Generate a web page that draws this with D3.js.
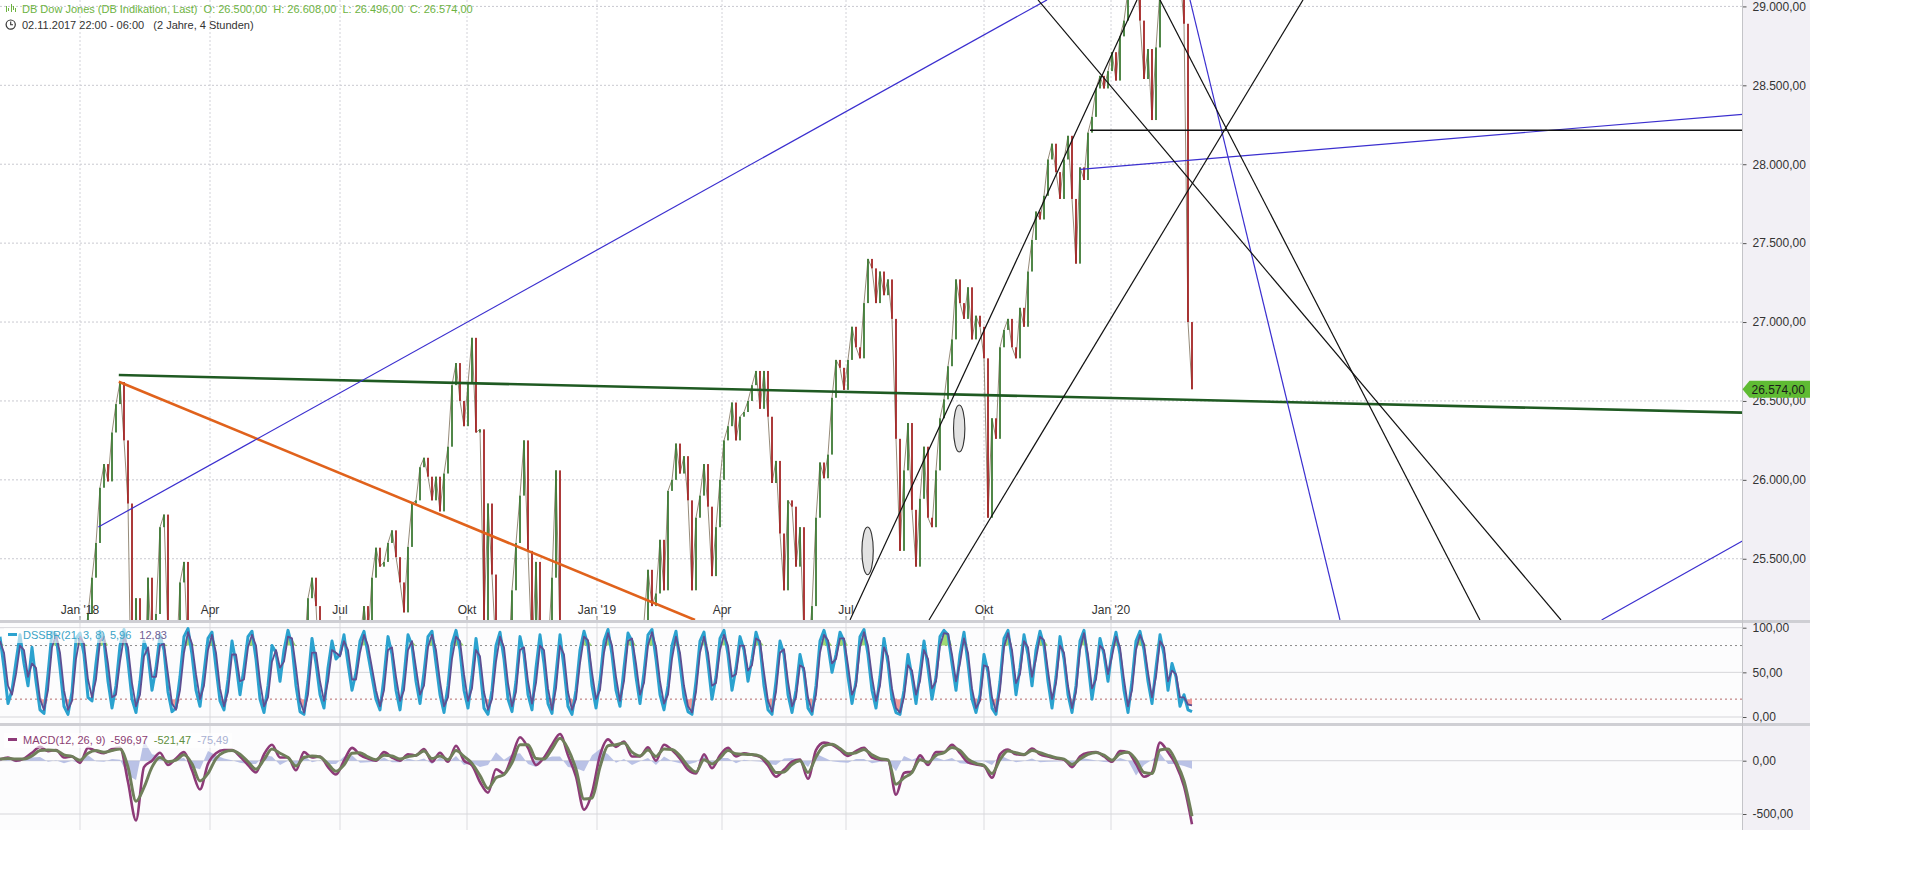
<!DOCTYPE html>
<html><head><meta charset="utf-8">
<script src="https://cdn.jsdelivr.net/npm/d3@7"></script>
<style>
html,body{margin:0;padding:0;background:#fff;}
svg{display:block;font-family:Arial,"Liberation Sans",sans-serif;}
</style></head><body>
<svg id="c" width="1914" height="869"></svg>
<script>
// ---------------- DATA ----------------
const headerTitle = "DB Dow Jones (DB Indikation, Last)  O: 26.500,00  H: 26.608,00  L: 26.496,00  C: 26.574,00";
const headerRange = "02.11.2017 22:00 - 06:00   (2 Jahre, 4 Stunden)";
const lastPrice = 26574;

// 4-hour closes, one value per bar slot (index units)
const closes = [
23450,23500,23400,23550,23600,23400,23550,23800,24100,24200,24300,24100,24250,24500,24600,24700,24750,24700,24750,24800,
24850,24950,25150,25380,25600,25950,26100,25990,26300,26480,26620,26250,25850,24300,25250,24400,24600,25380,24900,25150,
25700,25780,25000,24600,24800,25350,25480,24900,24400,24600,24000,23800,24100,23700,24200,24400,24100,24500,24300,24000,
24300,24700,24800,24700,24850,24400,24700,24800,24500,24700,24300,24600,24900,24800,24950,25000,24900,25250,25380,25200,
24700,24400,24200,24300,24100,24300,24500,24800,24700,24900,25000,25200,25000,25380,25570,25450,25480,25600,25680,25510,
25350,25160,25575,25850,25870,26080,26140,26020,25870,26020,25800,26040,26210,26600,26740,26500,26340,26610,26900,26300,
26320,25100,25850,25400,24900,24700,25000,24800,25300,25600,25900,26250,25550,24900,25480,24800,24500,24900,25380,26060,
25000,24400,24100,23800,23300,22800,22500,23100,23300,23400,23000,23500,23800,23900,24100,24500,24400,24600,24800,24700,
25000,25100,25430,25200,25280,25620,25300,25930,26000,26230,26040,26150,25870,25300,25760,25900,26100,25830,25390,25700,
26000,26250,26340,26490,26250,26400,26430,26500,26600,26690,26450,26690,26400,25980,26120,25660,25300,25870,25830,25450,
25700,25000,24900,25200,25760,26110,26010,26160,26520,26760,26710,26570,26760,26970,26840,26770,27120,27400,27340,27120,
27320,27170,27270,27020,26260,25550,26060,26360,25810,25450,25880,26210,25760,25700,26060,26390,26510,26720,26890,27270,
27120,27020,27220,26890,27040,26970,26770,25760,26390,26260,26840,26950,27020,26840,26770,27090,26970,27320,27520,27700,
27650,27800,28030,28130,27950,27780,28030,28180,27780,27370,27980,27900,28200,28300,28480,28560,28480,28590,28710,28530,
28810,28910,29100,29250,29300,28910,28540,28730,28280,28740,29100,29350,29500,29400,29300,29200,28890,27000,26574
];

// DSSBR(21,3,8): main line and signal line, one value per bar slot
const dssMain = [
90,55,15,30,62,92,60,35,78,40,8,4,48,95,92,55,12,3,28,88,
94,70,22,18,60,96,85,40,10,35,80,98,62,20,5,40,85,70,30,55,
92,75,28,6,10,45,90,99,70,30,12,50,88,95,55,18,8,42,85,60,
25,55,90,96,65,20,5,35,80,72,40,75,97,80,35,6,3,40,88,60,
25,10,55,85,65,70,92,60,30,50,85,96,70,45,20,8,45,90,70,30,
8,45,92,80,40,15,50,90,96,60,25,5,35,82,97,75,30,10,45,88,
55,10,3,30,80,95,65,20,6,40,90,70,25,8,55,92,60,15,4,48,
92,55,12,3,30,75,96,80,35,10,40,85,98,70,30,12,55,94,85,45,
15,50,92,98,65,25,8,35,80,96,60,22,6,3,40,85,95,60,20,45,
88,97,70,30,55,90,75,40,65,95,80,35,8,3,40,85,70,25,5,30,
70,50,10,3,35,85,97,80,50,70,95,85,45,15,40,90,98,70,30,10,
45,88,60,20,5,3,30,70,45,15,50,85,55,20,45,90,97,92,60,30,
70,95,60,20,5,25,70,50,10,3,40,88,97,65,25,55,92,70,35,75,
96,80,40,10,45,90,65,25,5,35,85,97,60,20,50,88,70,40,75,95,
70,30,5,40,85,96,75,40,15,55,92,70,30,60,45,12,25,8,6
];
const dssSignal = [
85,72,35,25,48,80,75,45,60,55,20,8,30,78,92,72,30,8,18,65,
90,82,42,22,42,85,90,60,22,25,62,90,78,38,12,25,68,78,45,45,
80,82,48,15,8,30,72,95,82,48,20,35,75,92,72,32,12,28,70,70,
40,42,78,92,80,40,12,22,62,75,55,62,90,88,55,18,5,25,72,72,
40,18,40,75,72,68,85,75,42,42,72,92,80,55,30,12,30,75,78,45,
18,30,75,85,55,25,35,78,92,75,40,12,22,65,90,85,48,18,32,75,
68,28,8,20,62,90,78,38,12,28,75,78,40,15,38,80,75,32,8,32,
80,70,28,8,20,60,90,86,50,20,30,72,94,80,45,18,40,85,88,60,
25,38,80,95,78,40,15,25,65,90,72,35,12,5,28,72,90,72,35,38,
75,92,80,45,48,80,80,52,58,88,85,50,18,6,28,72,76,40,12,22,
58,55,22,6,25,72,92,86,60,65,88,88,58,25,35,78,95,80,45,18,
35,78,68,32,10,5,22,58,52,25,40,75,65,32,40,80,94,93,70,40,
60,88,72,32,10,18,58,56,22,6,30,78,94,75,38,48,85,78,45,65,
90,86,52,20,38,80,72,35,10,28,75,94,70,32,42,80,75,48,68,90,
78,42,12,30,75,92,82,50,22,45,85,78,40,52,48,22,22,14,13
];

// MACD(12,26,9): one value every 2 bar slots
const macdStep = 2;
const macdLine = [
10,30,0,20,75,130,90,100,30,40,-20,120,90,70,110,120,-200,-560,-60,0,
75,-40,20,80,-90,-270,-30,70,100,100,40,-40,-110,60,150,30,30,-90,80,30,
40,-60,-130,0,120,55,20,0,80,30,0,60,50,110,-10,75,-10,140,0,-45,
-200,-300,-80,-120,40,220,120,-40,30,150,250,50,-150,-460,-300,50,200,130,180,40,
40,125,0,150,100,20,-85,-120,60,-70,50,120,40,70,55,35,-45,-150,-85,-10,
10,-170,100,170,150,100,45,90,120,30,10,5,-320,-115,-100,50,-40,80,80,150,
70,-15,-35,-50,-160,60,105,60,55,115,60,40,20,10,-60,40,75,80,40,-10,
90,80,-30,-150,-110,170,80,-40,-240,-597
];
const macdSignal = [
15,20,15,15,45,95,100,95,55,40,5,70,95,80,95,110,-60,-380,-250,-60,
30,-10,5,55,-30,-190,-120,20,80,95,60,-10,-80,10,110,70,30,-50,30,45,
35,-30,-100,-40,70,75,35,10,50,45,15,40,50,90,20,45,10,95,40,-25,
-140,-260,-160,-130,-20,150,150,20,15,110,210,110,-80,-360,-350,-60,140,150,165,80,
45,100,40,110,105,45,-50,-105,10,-30,25,95,65,60,58,42,-15,-110,-105,-35,
0,-110,35,140,155,115,65,75,105,55,20,8,-220,-160,-110,10,-15,50,75,125,
95,15,-25,-45,-120,10,90,75,58,95,75,50,28,15,-35,15,60,78,52,5,
65,80,10,-110,-120,100,110,-10,-190,-521
];
const macdHist = [
-5,10,-15,5,30,35,-10,5,-25,0,-25,50,-5,-10,15,10,-140,-180,190,60,
45,-30,15,25,-60,-80,90,50,20,5,-20,-30,-30,50,40,-40,0,-40,50,-15,
5,-30,-30,40,50,-20,-15,-10,30,-15,-15,20,0,20,-30,30,-20,45,-40,-20,
-60,-40,80,10,60,70,-30,-60,15,40,40,-60,-70,-100,50,110,60,-20,15,-40,
-5,25,-40,40,-5,-25,-35,-15,50,-40,25,25,-25,10,-3,-7,-30,-40,20,25,
10,-60,65,30,-5,-15,-20,15,15,-25,-10,-3,-100,45,10,40,-25,30,5,25,
-25,-30,-10,-5,-40,50,15,-15,-3,20,-15,-10,-8,-5,-25,25,15,2,-12,-15,
25,0,-140,-40,10,70,-30,-30,-50,-75
];

// axis ticks
const monthTicks  = [20, 52.5, 85, 116.75, 149.25, 180.5, 211.5, 246, 277.75];
const monthLabels = ["Jan '18","Apr","Jul","Okt","Jan '19","Apr","Jul","Okt","Jan '20"];
const priceTicks = [25500, 26000, 26500, 27000, 27500, 28000, 28500, 29000];
const dssTicks = [0, 50, 100];
const dssLevels = [20, 80];
const macdTicks = [-500, 0];

// drawn trend lines: [slot1, price1, slot2, price2]
const trendGreen  = [[29.7, 26664, 435.6, 26426]];
const trendOrange = [[29.7, 26622, 173.75, 25112]];
const trendBlue = [
  [24.6, 25701, 261.75, 29041],
  [297.5, 29041, 335, 25112],
  [270, 27967, 435.6, 28316],
  [400.4, 25112, 435.6, 25612]
];
const trendBlack = [
  [212.5, 25112, 284.25, 29041],
  [232.25, 25112, 325.75, 29041],
  [259.5, 29041, 390.25, 25112],
  [290, 29041, 370, 25112]
];
const trendHorizontal = [[272.5, 28215, 435.6, 28215]];
// ellipses: [slot, price, half width (slots), half height (price)]
const ellipses = [[216.9, 25550, 1.42, 151], [239.8, 26325, 1.42, 149]];

const dssLegend  = ["DSSBR(21, 3, 8)", "5,96", "12,83"];
const macdLegend = ["MACD(12, 26, 9)", "-596,97", "-521,47", "-75,49"];

// ---------------- CHART ----------------
const svg = d3.select("#c");
const loc = d3.formatLocale({decimal:",", thousands:".", grouping:[3], currency:["","€"], minus:"-"});
const fmt = loc.format(",.2f");

const PR = 1742.5, AR = 1810;
const x = d3.scaleLinear().domain([0, 435.625]).range([0, PR]);
const y = d3.scaleLinear().domain([25111.9, 29040.6]).range([620, 0]);
const yD = d3.scaleLinear().domain([0, 100]).range([717, 627.7]);
const yM = d3.scaleLinear().domain([-500, 0]).range([814, 760.7]);

const defs = svg.append("defs");
defs.append("clipPath").attr("id","cm").append("rect").attr("x",0).attr("y",0).attr("width",PR).attr("height",620);
defs.append("clipPath").attr("id","cd").append("rect").attr("x",0).attr("y",623).attr("width",PR).attr("height",100);
defs.append("clipPath").attr("id","cmc").append("rect").attr("x",0).attr("y",726).attr("width",PR).attr("height",104);

// axis column background
svg.append("rect").attr("x",PR).attr("y",0).attr("width",AR-PR).attr("height",830).attr("fill","#f2f0f5");
svg.append("rect").attr("x",0).attr("y",623).attr("width",PR).attr("height",207).attr("fill","#fcfcfd");

// grid main
const grid = svg.append("g");
grid.selectAll("line.h").data(priceTicks).join("line")
  .attr("x1",0).attr("x2",PR).attr("y1",d=>y(d)).attr("y2",d=>y(d))
  .attr("stroke","#c9c9d0").attr("stroke-dasharray","2,2");
grid.selectAll("line.v").data(monthTicks).join("line")
  .attr("x1",d=>x(d)).attr("x2",d=>x(d)).attr("y1",0).attr("y2",620)
  .attr("stroke","#d2d2d8").attr("stroke-dasharray","2,2");
grid.selectAll("line.v2").data(monthTicks).join("line")
  .attr("x1",d=>x(d)).attr("x2",d=>x(d)).attr("y1",623).attr("y2",830)
  .attr("stroke","#dcdce0");
grid.selectAll("line.vt").data(monthTicks).join("line")
  .attr("x1",d=>x(d)).attr("x2",d=>x(d)).attr("y1",616).attr("y2",620)
  .attr("stroke","#888");

// candles
const gMain = svg.append("g").attr("clip-path","url(#cm)");
const candles = closes.map((c,i)=>({i, o: i ? closes[i-1] : c, c}));
gMain.append("path").datum(closes)
  .attr("d",d3.line().x((d,i)=>x(i)).y(d=>y(d)))
  .attr("fill","none").attr("stroke","#6a5a40").attr("stroke-width",1).attr("opacity",0.7);
gMain.selectAll("rect.cd").data(candles).join("rect")
  .attr("x",d=>x(d.i)-0.9).attr("width",1.8)
  .attr("y",d=>y(Math.max(d.o,d.c)))
  .attr("height",d=>Math.max(1,Math.abs(y(d.o)-y(d.c))))
  .attr("fill",d=>d.c>=d.o?"#3d7a35":"#a32525");

// trend lines
function drawTL(data, color, w){
  gMain.append("g").selectAll("line").data(data).join("line")
    .attr("x1",d=>x(d[0])).attr("y1",d=>y(d[1]))
    .attr("x2",d=>x(d[2])).attr("y2",d=>y(d[3]))
    .attr("stroke",color).attr("stroke-width",w);
}
drawTL(trendOrange,"#e0621c",2.6);
drawTL(trendGreen,"#1f5a22",2.6);
drawTL(trendBlue,"#3b2fcf",1.2);
drawTL(trendBlack,"#111",1.2);
drawTL(trendHorizontal,"#111",1.6);
gMain.selectAll("ellipse").data(ellipses).join("ellipse")
  .attr("cx",d=>x(d[0])).attr("cy",d=>y(d[1]))
  .attr("rx",d=>x(d[0]+d[2])-x(d[0])).attr("ry",d=>y(d[1]-d[3])-y(d[1]))
  .attr("fill","#e2e2e2").attr("stroke","#333").attr("stroke-width",1.1);

// separators
svg.append("rect").attr("x",0).attr("y",620).attr("width",AR).attr("height",3).attr("fill","#cfcfd4");
svg.append("rect").attr("x",0).attr("y",723).attr("width",AR).attr("height",3).attr("fill","#cfcfd4");

// DSS panel
const gD = svg.append("g").attr("clip-path","url(#cd)");
gD.selectAll("line.g").data(dssTicks).join("line")
  .attr("x1",0).attr("x2",PR).attr("y1",d=>yD(d)).attr("y2",d=>yD(d)).attr("stroke","#d6d6da");
gD.selectAll("line.l").data(dssLevels).join("line")
  .attr("x1",0).attr("x2",PR).attr("y1",d=>yD(d)).attr("y2",d=>yD(d))
  .attr("stroke",(d,i)=>i?"#8a8a8a":"#b46a6a").attr("stroke-dasharray","2,3");
gD.append("path").datum(dssSignal)
  .attr("d",d3.area().x((d,i)=>x(i)).y0(yD(80)).y1(d=>yD(Math.max(d,80))))
  .attr("fill","#8fd35a").attr("opacity",0.85);
gD.append("path").datum(dssSignal)
  .attr("d",d3.area().x((d,i)=>x(i)).y0(yD(20)).y1(d=>yD(Math.min(d,20))))
  .attr("fill","#f08a8a").attr("opacity",0.85);
gD.append("path").datum(dssMain)
  .attr("d",d3.line().x((d,i)=>x(i)).y(d=>yD(d)))
  .attr("fill","none").attr("stroke","#2ba2cf").attr("stroke-width",3).attr("stroke-linejoin","round");
gD.append("path").datum(dssSignal)
  .attr("d",d3.line().x((d,i)=>x(i)).y(d=>yD(d)))
  .attr("fill","none").attr("stroke","#5e4f92").attr("stroke-width",1.8).attr("stroke-linejoin","round");

// MACD panel
const gM = svg.append("g").attr("clip-path","url(#cmc)");
gM.selectAll("line.g").data(macdTicks).join("line")
  .attr("x1",0).attr("x2",PR).attr("y1",d=>yM(d)).attr("y2",d=>yM(d)).attr("stroke","#d6d6da");
gM.append("path").datum(macdHist)
  .attr("d",d3.area().x((d,i)=>x(i*macdStep)).y0(yM(0)).y1(d=>yM(d)))
  .attr("fill","#a9b3e0").attr("opacity",0.8);
gM.append("path").datum(macdLine)
  .attr("d",d3.line().curve(d3.curveMonotoneX).x((d,i)=>x(i*macdStep)).y(d=>yM(d)))
  .attr("fill","none").attr("stroke","#8d3a78").attr("stroke-width",2.6).attr("stroke-linejoin","round");
gM.append("path").datum(macdSignal)
  .attr("d",d3.line().curve(d3.curveMonotoneX).x((d,i)=>x(i*macdStep)).y(d=>yM(d)))
  .attr("fill","none").attr("stroke","#6f7f5a").attr("stroke-width",3).attr("stroke-linejoin","round");

// right axes
function rAxis(scale, ticks){
  const g = svg.append("g").attr("transform",`translate(${PR},0)`)
    .call(d3.axisRight(scale).tickValues(ticks).tickFormat(fmt).tickSize(4).tickPadding(6));
  g.select(".domain").remove();
  g.selectAll("line").attr("stroke","#555");
  g.selectAll("text").attr("fill","#333").attr("font-size",12).attr("font-family","Arial, 'Liberation Sans', sans-serif");
}
rAxis(y, priceTicks);
rAxis(yD, dssTicks);
rAxis(yM, macdTicks);
svg.append("line").attr("x1",PR).attr("x2",PR).attr("y1",0).attr("y2",830).attr("stroke","#c4c4c8");

// x labels
svg.append("g").selectAll("text").data(monthTicks).join("text")
  .attr("x",d=>x(d)).attr("y",614).attr("text-anchor","middle")
  .attr("font-size",12).attr("fill","#333").text((d,i)=>monthLabels[i]);

// legends
svg.append("rect").attr("x",4).attr("y",628).attr("width",176).attr("height",15).attr("fill","#fff").attr("opacity",0.6);
svg.append("rect").attr("x",8).attr("y",633).attr("width",9).attr("height",3).attr("fill","#2ba2cf");
const tD = svg.append("text").attr("x",23).attr("y",639).attr("font-size",11).attr("fill","#3aa3c6");
tD.append("tspan").text(dssLegend[0]);
tD.append("tspan").attr("dx",5).text(dssLegend[1]);
tD.append("tspan").attr("dx",8).attr("fill","#6e5f93").text(dssLegend[2]);

svg.append("rect").attr("x",4).attr("y",733).attr("width",228).attr("height",15).attr("fill","#fff").attr("opacity",0.6);
svg.append("rect").attr("x",8).attr("y",738).attr("width",9).attr("height",3).attr("fill","#8d3a78");
const tM = svg.append("text").attr("x",23).attr("y",744).attr("font-size",11).attr("fill","#8b3d73");
tM.append("tspan").text(macdLegend[0]);
tM.append("tspan").attr("dx",5).text(macdLegend[1]);
tM.append("tspan").attr("dx",6).attr("fill","#5f8f3f").text(macdLegend[2]);
tM.append("tspan").attr("dx",6).attr("fill","#a8b0d2").text(macdLegend[3]);

// header
const hi = svg.append("g").attr("stroke","#6db33f").attr("stroke-width",1);
[[6,6,12],[8,8,11],[11,4,12],[13,6,10],[15,8,12]].forEach(b=>{
  hi.append("line").attr("x1",b[0]+0.5).attr("x2",b[0]+0.5).attr("y1",b[1]).attr("y2",b[2]);
});
svg.append("text").attr("x",22).attr("y",12.5).attr("font-size",11).attr("fill","#6db33f")
  .style("white-space","pre").text(headerTitle);
svg.append("circle").attr("cx",10.7).attr("cy",24.6).attr("r",4.6).attr("fill","none").attr("stroke","#333").attr("stroke-width",1.2);
svg.append("path").attr("d","M10.7,21.5 V24.8 H13").attr("fill","none").attr("stroke","#333").attr("stroke-width",1.1);
svg.append("text").attr("x",22).attr("y",28.5).attr("font-size",11).attr("fill","#333")
  .style("white-space","pre").text(headerRange);

// last price marker
const py = y(lastPrice);
svg.append("path").attr("d",`M${PR},${py} L${PR+7},${py-8.5} H${AR} V${py+8.5} H${PR+7} Z`).attr("fill","#5fbb33");
svg.append("text").attr("x",PR+9).attr("y",py+4.3).attr("font-size",12).attr("fill","#1a1a1a").text(fmt(lastPrice));
</script></body></html>
